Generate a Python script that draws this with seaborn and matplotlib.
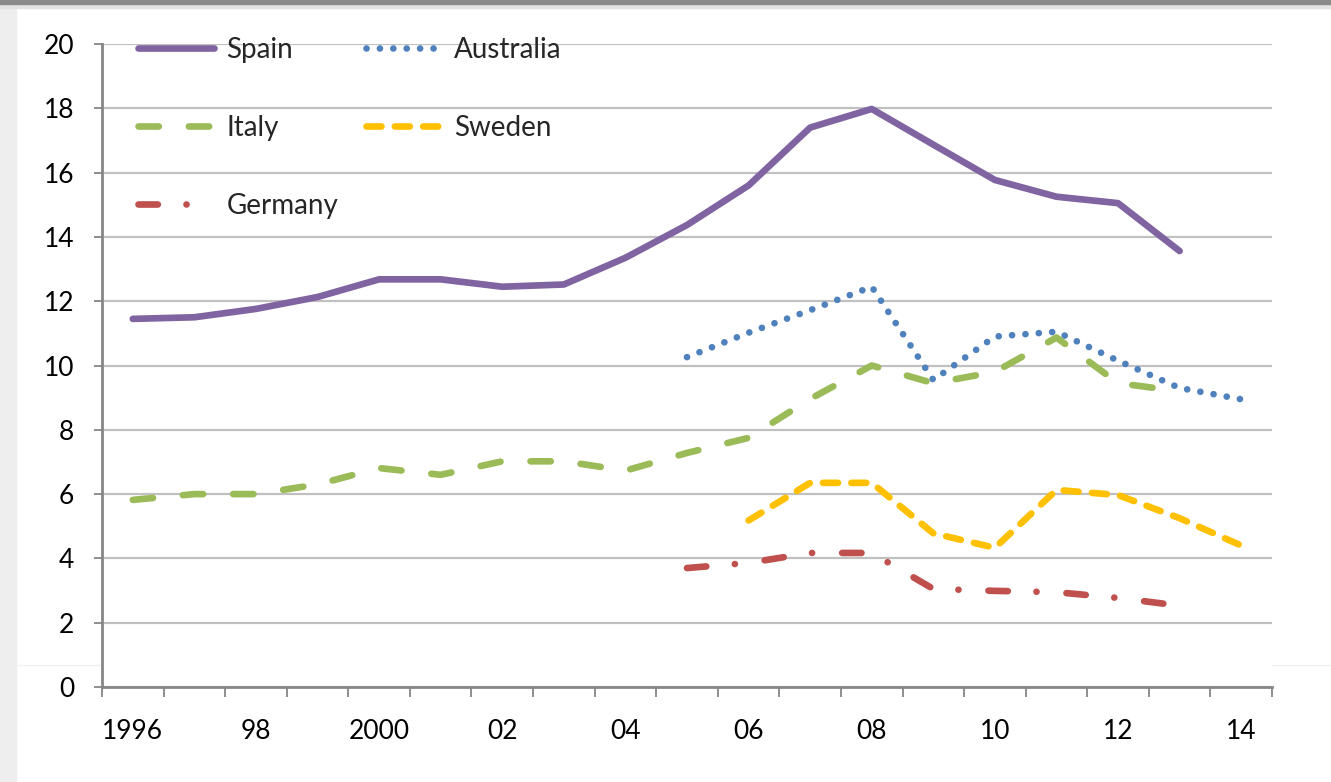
import numpy as np
import matplotlib
matplotlib.use("Agg")
import matplotlib.pyplot as plt
import seaborn as sns
from matplotlib.patches import Rectangle
from matplotlib.lines import Line2D

nan = np.nan

# ── data ─────────────────────────────────────────────────────────────────────
years = list(range(1996, 2015))
spain = [11.45, 11.5, 11.76, 12.13, 12.68, 12.68, 12.45, 12.52, 13.35, 14.37,
         15.6, 17.4, 17.98, 16.87, 15.77, 15.25, 15.05, 13.56, nan]
australia = [nan, nan, nan, nan, nan, nan, nan, nan, nan, 10.26,
             11.02, 11.72, 12.45, 9.55, 10.9, 11.05, 10.15, 9.3, 8.95]
italy = [5.82, 6.0, 6.0, 6.3, 6.81, 6.6, 7.02, 7.02, 6.73, 7.28,
         7.75, 8.96, 10.0, 9.45, 9.8, 10.87, 9.45, 9.2, nan]
sweden = [nan, nan, nan, nan, nan, nan, nan, nan, nan, nan,
          5.18, 6.35, 6.35, 4.78, 4.33, 6.13, 5.97, 5.25, 4.4]
germany = [nan, nan, nan, nan, nan, nan, nan, nan, nan, 3.7,
           3.86, 4.17, 4.17, 3.05, 2.99, 2.95, 2.77, 2.53, nan]

x_tick_years = [1996, 1998, 2000, 2002, 2004, 2006, 2008, 2010, 2012, 2014]
x_tick_labels = ["1996", "98", "2000", "02", "04", "06", "08", "10", "12", "14"]

series = {
    "Spain": spain,
    "Australia": australia,
    "Italy": italy,
    "Sweden": sweden,
    "Germany": germany,
}

# line looks (Excel-ish colours and dash patterns, in linewidth units)
styles = {
    "Spain":     ("#8064A2", "-"),
    "Australia": ("#4F81BD", (0, (0.01, 2.0))),
    "Italy":     ("#9BBB59", (0, (3.05, 4.5))),
    "Sweden":    ("#FFC000", (0, (2.25, 2.0))),
    "Germany":   ("#C0504D", (0, (2.9, 4.3, 0.01, 4.5))),
}

sns.set_theme(style="white")
plt.rcParams["font.family"] = ["Lato", "DejaVu Sans"]

fig = plt.figure(figsize=(13.31, 7.82), dpi=100)
ax = fig.add_axes([102 / 1331, 1 - 687 / 782, 1170 / 1331, 643 / 782])

# window frame remnants of the screenshot
fig.patches.append(Rectangle((0, 0), 16 / 1331, 1, transform=fig.transFigure,
                             color="#eeeeee", zorder=-5))
fig.patches.append(Rectangle((0, 1 - 8 / 782), 1, 8 / 782, transform=fig.transFigure,
                             color="#e3e3e3", zorder=-4))
fig.patches.append(Rectangle((0, 1 - 4 / 782), 1, 4 / 782, transform=fig.transFigure,
                             color="#8a8a8a", zorder=-3))
fig.add_artist(Line2D([16 / 1331, 1], [1 - 665 / 782] * 2, transform=fig.transFigure,
                      color="#f0f0f0", lw=1, zorder=-2))

lw = 4.8
for name, vals in series.items():
    color, ls = styles[name]
    sns.lineplot(x=years, y=vals, ax=ax, color=color, lw=lw, linestyle=ls,
                 dash_capstyle="round", solid_capstyle="round",
                 label=name, errorbar=None)

# ── axes ─────────────────────────────────────────────────────────────────────
ax.set_xlim(1995.5, 2014.5)
ax.set_ylim(0, 20)
ax.set_yticks(range(0, 21, 2))
ax.set_xticks(x_tick_years)
ax.set_xticklabels(x_tick_labels)
ax.set_xticks(np.arange(1995.5, 2015, 1.0), minor=True)
ax.yaxis.grid(True, color="#c0c0c0", lw=1.6)
ax.xaxis.grid(False)
ax.set_axisbelow(True)

for side in ["top", "right"]:
    ax.spines[side].set_visible(False)
for side in ["left", "bottom"]:
    ax.spines[side].set_color("#868686")
    ax.spines[side].set_linewidth(2)

ax.tick_params(axis="y", which="major", direction="out", length=6, width=1.3,
               color="#868686", pad=14, labelsize=19, labelcolor="black", left=True)
ax.tick_params(axis="x", which="major", length=0, pad=23, labelsize=19,
               labelcolor="black")
ax.tick_params(axis="x", which="minor", direction="out", length=7, width=1.3,
               color="#868686", bottom=True)
ax.set_xlabel("")
ax.set_ylabel("")

# legend: col 1 = Spain / Italy / Germany, col 2 = Australia / Sweden
handles, labels = ax.get_legend_handles_labels()
order = ["Spain", "Italy", "Germany", "Australia", "Sweden"]
hmap = dict(zip(labels, handles))
ax.legend([hmap[k] for k in order], order, ncol=2, loc="upper left",
          bbox_to_anchor=(0.031, 1.011), frameon=False, fontsize=20,
          handlelength=2.72, handletextpad=0.45, columnspacing=1.0,
          labelspacing=1.87, borderpad=0, borderaxespad=0)

fig.savefig("out.png", dpi=100)
plt.close(fig)
